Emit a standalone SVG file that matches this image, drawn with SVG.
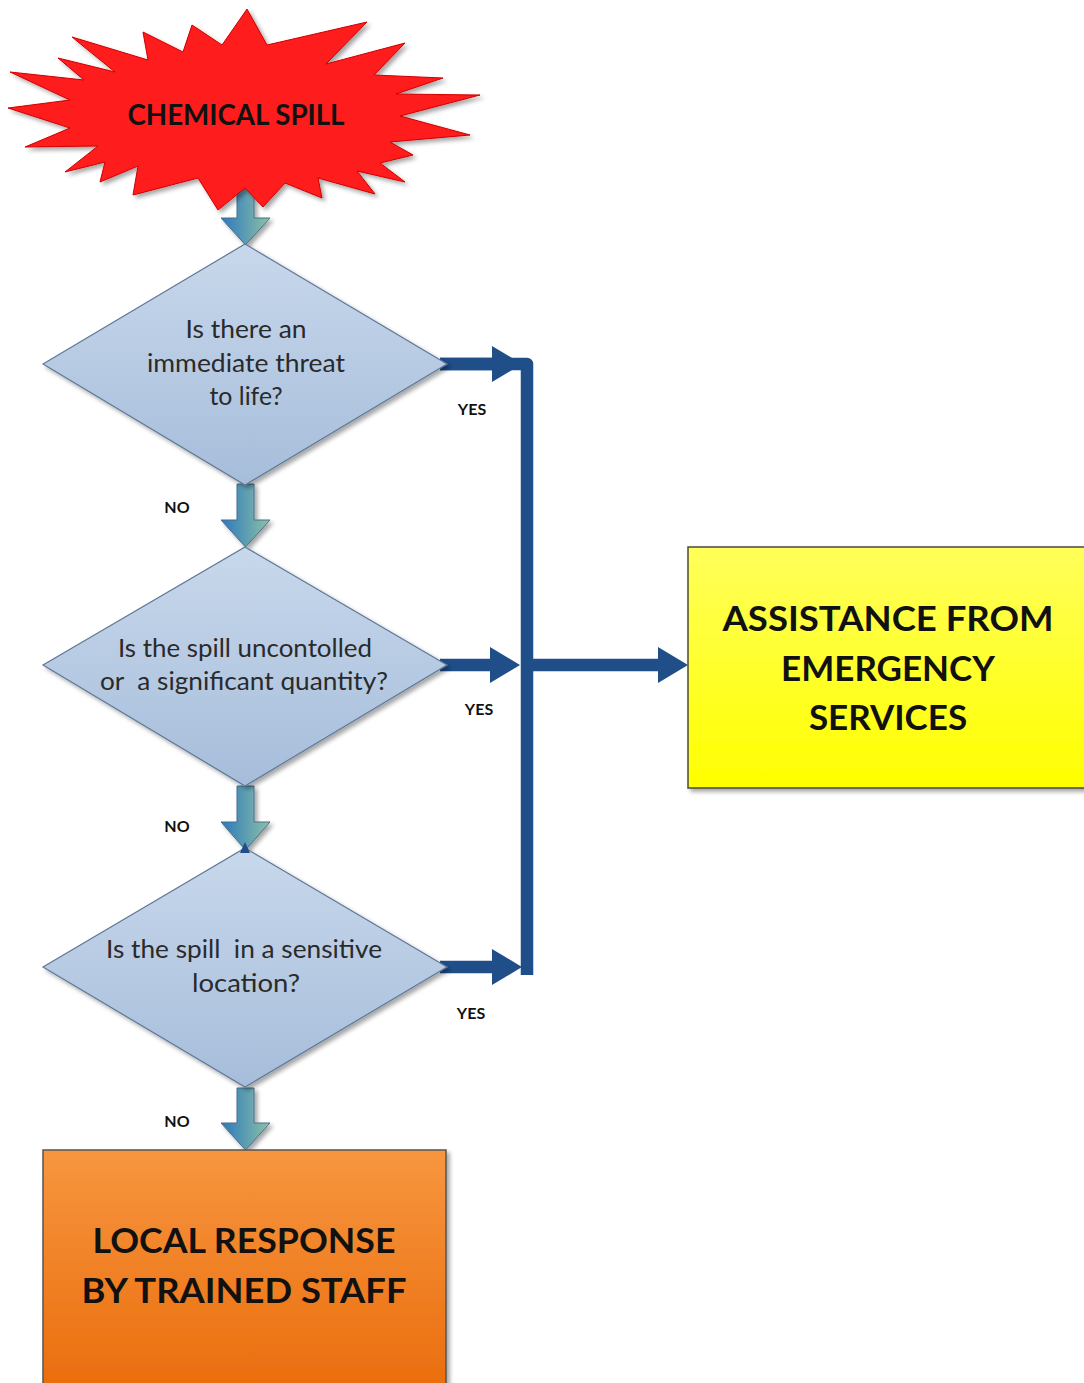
<svg xmlns="http://www.w3.org/2000/svg" width="1084" height="1383" viewBox="0 0 1084 1383">
<style>
.q{font-family:Lato,"Liberation Sans",sans-serif;font-size:25px;fill:#2a2a2a;text-anchor:middle;white-space:pre}
.lbl{font-family:Lato,"Liberation Sans",sans-serif;font-size:16px;font-weight:700;fill:#111;text-anchor:middle}
.big{font-family:Lato,"Liberation Sans",sans-serif;font-weight:700;fill:#111;text-anchor:middle}
.dia{fill:url(#gDia);stroke:#5f7898;stroke-width:1.2;filter:url(#sh)}
.blk{fill:url(#gBlk);stroke:#4d6d8c;stroke-width:1;filter:url(#sh)}
.con{fill:none;stroke:#1f4e89;stroke-width:12.5}
</style>
<defs>
<filter id="sh" x="-10%" y="-10%" width="125%" height="125%">
<feDropShadow dx="3" dy="3" stdDeviation="2" flood-color="#000" flood-opacity="0.35"/>
</filter>
<linearGradient id="gDia" x1="0" y1="0" x2="0" y2="1">
<stop offset="0" stop-color="#c8d8ec"/><stop offset="1" stop-color="#a6bdda"/>
</linearGradient>
<linearGradient id="gBlk" x1="0" y1="0" x2="1" y2="0">
<stop offset="0" stop-color="#2c78bd"/><stop offset="1" stop-color="#8cc2a6"/>
</linearGradient>
<linearGradient id="gYel" x1="0" y1="0" x2="0" y2="1">
<stop offset="0" stop-color="#ffff5a"/><stop offset="1" stop-color="#ffff00"/>
</linearGradient>
<linearGradient id="gOra" x1="0" y1="0" x2="0" y2="1">
<stop offset="0" stop-color="#f7963f"/><stop offset="1" stop-color="#ea6c0c"/>
</linearGradient>
<marker id="ah" markerUnits="userSpaceOnUse" markerWidth="30" markerHeight="36" refX="8" refY="18" orient="auto">
<path d="M0,0 L30,18 L0,36 Z" fill="#1f4e89"/>
</marker>
</defs>
<rect width="1084" height="1383" fill="#fff"/>

<g id="flow-arrows">
<path class="blk" d="M237,185 H254 V218 H270 L245.5,245 L221,218 H237 Z"/>
<path class="blk" d="M237,484 H254 V520 H270 L245.5,547 L221,520 H237 Z"/>
<path class="blk" d="M237,786 H254 V822 H270 L245.5,850 L221,822 H237 Z"/>
<path class="blk" d="M237,1088 H254 V1123 H270 L245.5,1150 L221,1123 H237 Z"/>
</g>

<g id="connectors">
<path class="con" d="M440,364 H527 V975" stroke-linejoin="round"/>
<path class="con" d="M440,364 H500" marker-end="url(#ah)"/>
<path class="con" d="M440,665 H498" marker-end="url(#ah)"/>
<path class="con" d="M527,665 H666" marker-end="url(#ah)"/>
<path class="con" d="M440,967 H500" marker-end="url(#ah)"/>
</g>

<g id="start">
<polygon points="247,9 267,45 367,22 326,64 405,43 374,75 443,78 396,94 480,95 400,116 470,135 390,142 413,155 380,163 405,182 357,171 375,194 318,178 322,198 285,183 263,207 245,188 218,210 198,178 133,195 138,166 100,182 105,162 65,172 98,146 25,147 70,128 8,108 70,100 10,72 84,80 58,58 115,72 72,37 148,60 143,32 183,52 192,25 222,45" fill="#ff1a1a" stroke="#d00000" stroke-width="1" filter="url(#sh)"/>
<text class="big" x="236" y="125" font-size="28" fill="#1a0000" textLength="217" lengthAdjust="spacingAndGlyphs">CHEMICAL SPILL</text>
</g>

<g id="q1">
<polygon class="dia" points="245,244 447,364 245,485 43,364"/>
<text class="q" x="246" y="338" textLength="121" lengthAdjust="spacingAndGlyphs">Is there an</text>
<text class="q" x="246" y="372" textLength="198" lengthAdjust="spacingAndGlyphs">immediate threat</text>
<text class="q" x="246" y="405" textLength="73" lengthAdjust="spacingAndGlyphs">to life?</text>
</g>

<g id="q2">
<polygon class="dia" points="245,547 447,665 245,786 43,665"/>
<text class="q" x="245" y="657" textLength="254" lengthAdjust="spacingAndGlyphs">Is the spill uncontolled</text>
<text class="q" x="244" y="690" textLength="288" lengthAdjust="spacingAndGlyphs" xml:space="preserve">or  a significant quantity?</text>
</g>

<g id="q3">
<polygon class="dia" points="245,848 447,967 245,1087 43,967"/>
<polygon points="240,853 250,853 245,842" fill="#1f4e89"/>
<text class="q" x="244" y="958" textLength="276" lengthAdjust="spacingAndGlyphs" xml:space="preserve">Is the spill  in a sensitive</text>
<text class="q" x="246" y="992" textLength="108" lengthAdjust="spacingAndGlyphs">location?</text>
</g>

<g id="labels">
<text class="lbl" x="472" y="415">YES</text>
<text class="lbl" x="479" y="715">YES</text>
<text class="lbl" x="471" y="1019">YES</text>
<text class="lbl" x="177" y="513">NO</text>
<text class="lbl" x="177" y="832">NO</text>
<text class="lbl" x="177" y="1127">NO</text>
</g>

<g id="emergency">
<rect x="688" y="547" width="402" height="241" fill="url(#gYel)" stroke="#4a4a3a" stroke-width="1.5" filter="url(#sh)"/>
<text class="big" x="888" y="631" font-size="35" textLength="331" lengthAdjust="spacingAndGlyphs">ASSISTANCE FROM</text>
<text class="big" x="888" y="681" font-size="35">EMERGENCY</text>
<text class="big" x="888" y="730" font-size="35">SERVICES</text>
</g>

<g id="local">
<rect x="43" y="1150" width="403" height="245" fill="url(#gOra)" stroke="#555" stroke-width="1.5" filter="url(#sh)"/>
<text class="big" x="244" y="1253" font-size="34" textLength="303" lengthAdjust="spacingAndGlyphs">LOCAL RESPONSE</text>
<text class="big" x="244" y="1303" font-size="34" textLength="325" lengthAdjust="spacingAndGlyphs">BY TRAINED STAFF</text>
</g>
</svg>
